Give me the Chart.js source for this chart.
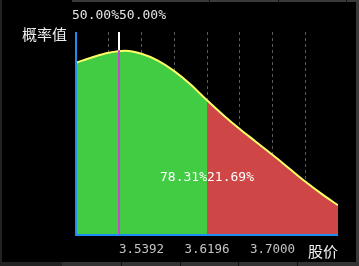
<!DOCTYPE html>
<html>
<head>
<meta charset="utf-8">
<script src="https://cdn.jsdelivr.net/npm/chart.js@4/dist/chart.umd.min.js"></script>
<style>
  html, body { margin: 0; padding: 0; background: #000; }
  canvas { display: block; }
</style>
</head>
<body>
<canvas id="c" width="359" height="266"></canvas>
<script>
// ---- data ----
const prices = [3.4588, 3.4789, 3.4990, 3.5191, 3.5392, 3.5593, 3.5794, 3.5995, 3.6196,
                3.6397, 3.6598, 3.6799, 3.7000, 3.7201, 3.7402, 3.7603, 3.7804];
const density = [174, 179.5, 184, 186, 183, 176, 165.5, 152, 136,
                 121, 107, 94, 81, 67.5, 54, 41.5, 30];
const gridTicks = [3.4588, 3.4990, 3.5392, 3.5794, 3.6196, 3.6598, 3.7000, 3.7402, 3.7804];
const tickLabels = ['3.5392', '3.6196', '3.7000'];
const medianPrice = 3.5112;
const medianLabels = ['50.00%', '50.00%'];
const splitPrice = 3.6196;
const splitLabels = ['78.31%', '21.69%'];
const yTitle = '概率值';
const xTitle = '股价';

const GREEN = 'rgb(66,204,68)';
const RED = 'rgb(206,70,70)';
const BLUE = '#1e8cf0';

const points = prices.map((p, i) => ({ x: p, y: density[i] }));

const overlay = {
  id: 'overlay',
  afterDatasetsDraw(chart) {
    const { ctx, chartArea: a, scales: { x } } = chart;
    const mx = Math.round(x.getPixelForValue(medianPrice));
    ctx.save();
    // magenta part only over the filled area
    ctx.globalCompositeOperation = 'source-atop';
    ctx.strokeStyle = '#c848cc';
    ctx.lineWidth = 2;
    ctx.beginPath(); ctx.moveTo(mx, a.top); ctx.lineTo(mx, a.bottom); ctx.stroke();
    // white part only where nothing is drawn (above the curve)
    ctx.globalCompositeOperation = 'destination-over';
    ctx.strokeStyle = '#ffffff';
    ctx.beginPath(); ctx.moveTo(mx, a.top); ctx.lineTo(mx, a.bottom); ctx.stroke();
    ctx.restore();
    // blue axes on top of the fill
    ctx.save();
    ctx.fillStyle = BLUE;
    const L = Math.round(a.left), T = Math.round(a.top), B = Math.round(a.bottom), R = Math.round(a.right);
    ctx.fillRect(L - 1, T, 2, B - T + 1);
    ctx.fillRect(L - 1, B - 1, R - L + 1, 2);
    ctx.restore();
  },
  afterDraw(chart) {
    const { ctx, chartArea: a, scales: { x } } = chart;
    const mx = Math.round(x.getPixelForValue(medianPrice));
    const sx = Math.round(x.getPixelForValue(splitPrice));
    ctx.save();
    ctx.textBaseline = 'middle';
    // top median labels
    ctx.font = '13px "DejaVu Sans Mono"';
    ctx.fillStyle = '#e4e4e4';
    ctx.textAlign = 'right';
    ctx.fillText(medianLabels[0], mx, 16);
    ctx.textAlign = 'left';
    ctx.fillText(medianLabels[1], mx, 16);
    // split labels
    ctx.fillStyle = '#ffffff';
    ctx.textAlign = 'right';
    ctx.fillText(splitLabels[0], sx, 178);
    ctx.textAlign = 'left';
    ctx.fillText(splitLabels[1], sx, 178);
    // axis titles
    ctx.font = '15px "Noto Sans CJK SC"';
    ctx.fillStyle = '#f0f0f0';
    ctx.textAlign = 'left';
    ctx.fillText(yTitle, 22, 34);
    ctx.textAlign = 'right';
    ctx.fillText(xTitle, a.right, 251);
    // window frame strips
    ctx.fillStyle = '#3a3a3a';
    ctx.fillRect(72, 0, 287, 2);
    ctx.fillRect(356, 0, 3, 266);
    ctx.fillStyle = '#333';
    ctx.fillRect(62, 262, 297, 4);
    ctx.fillStyle = '#222';
    ctx.fillRect(0, 262, 62, 4);
    ctx.fillRect(0, 0, 2, 266);
    ctx.fillStyle = '#111';
    [209, 278, 346].forEach(v => ctx.fillRect(v, 0, 1, 2));
    [121, 180, 238, 297].forEach(v => ctx.fillRect(v, 262, 1, 4));
    ctx.restore();
  }
};

new Chart(document.getElementById('c'), {
  type: 'line',
  data: {
    datasets: [{
      data: points,
      borderColor: '#ffff66',
      borderWidth: 2,
      pointRadius: 0,
      cubicInterpolationMode: 'monotone',
      fill: 'origin',
      backgroundColor: GREEN,
      segment: {
        backgroundColor: c => (c.p0.parsed.x >= splitPrice - 1e-9 ? RED : GREEN)
      }
    }]
  },
  options: {
    responsive: false,
    devicePixelRatio: 1,
    animation: false,
    layout: { padding: { left: 76, top: 32, right: 21, bottom: 2 } },
    plugins: { legend: { display: false }, tooltip: { enabled: false } },
    scales: {
      x: {
        type: 'linear',
        min: gridTicks[0],
        max: gridTicks[gridTicks.length - 1],
        afterBuildTicks: s => { s.ticks = gridTicks.map(v => ({ value: v })); },
        ticks: {
          autoSkip: false,
          maxRotation: 0,
          padding: 7,
          color: '#c4c4c4',
          font: { family: 'DejaVu Sans Mono', size: 12.5 },
          callback: v => tickLabels.find(t => Math.abs(parseFloat(t) - v) < 1e-6) || ''
        },
        grid: {
          drawTicks: false,
          lineWidth: 1,
          color: c => (c.index === 0 || c.index === gridTicks.length - 1) ? 'rgba(0,0,0,0)' : '#5a5a5a'
        },
        border: { display: false, color: BLUE, width: 2, dash: [3, 3] }
      },
      y: {
        min: 0,
        max: 205,
        ticks: { display: false },
        grid: { display: false, drawTicks: false },
        border: { display: false }
      }
    }
  },
  plugins: [overlay]
});
</script>
</body>
</html>
